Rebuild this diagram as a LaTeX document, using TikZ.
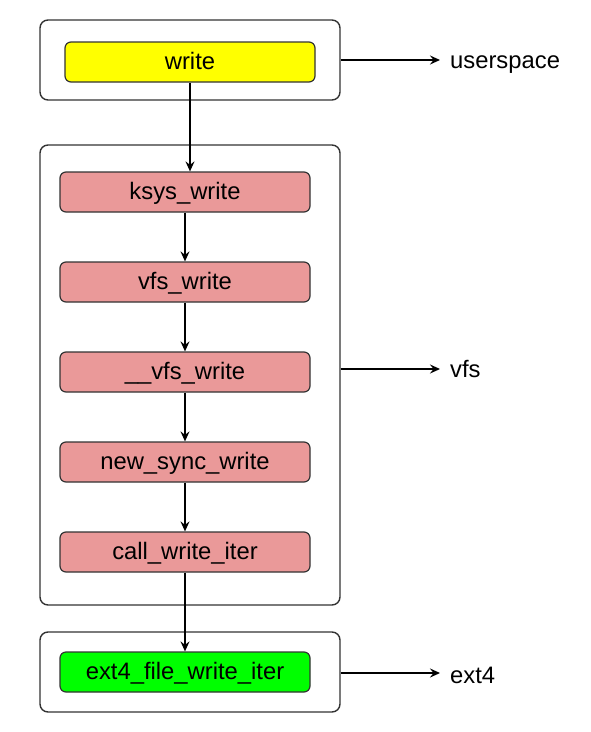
\documentclass[tikz,border=0pt]{standalone}
\usepackage{fontspec}
\setmainfont{Liberation Sans}
\usetikzlibrary{arrows.meta}
\definecolor{pinkfill}{HTML}{EA9999}
\definecolor{yellowfill}{HTML}{FFFF00}
\definecolor{greenfill}{HTML}{00FF00}
\definecolor{edgegray}{HTML}{333333}
\begin{document}
\begin{tikzpicture}[x=1pt,y=-1pt,
  outerbox/.style={draw=edgegray,line width=1.4pt,rounded corners=8pt,minimum width=300pt,inner sep=0pt,fill=white},
  fnbox/.style={draw=edgegray,line width=1.2pt,rounded corners=6pt,minimum width=250pt,minimum height=40pt,inner sep=0pt,text height=16pt,text depth=1pt,font=\fontsize{23.8}{26}\selectfont},
  lbl/.style={anchor=base west,inner sep=0pt,font=\fontsize{23.8}{26}\selectfont},
  conn/.style={line width=1.5pt,-{Stealth[length=10pt,width=9pt,inset=3.5pt]}}
]
\useasboundingbox (0,0) rectangle (590,732);
% outer boxes
\node[outerbox,minimum height=80pt] (top) at (190,60) {};
\node[outerbox,minimum height=460pt] (mid) at (190,375) {};
\node[outerbox,minimum height=80pt] (bot) at (190,672) {};
% function boxes
\node[fnbox,fill=yellowfill] (write) at (190,62) {write};
\node[fnbox,fill=pinkfill] (ksys) at (185,192) {ksys\_write};
\node[fnbox,fill=pinkfill] (vfsw) at (185,282) {vfs\_write};
\node[fnbox,fill=pinkfill] (uvfsw) at (185,372) {\_\_vfs\_write};
\node[fnbox,fill=pinkfill] (nsw) at (185,462) {new\_sync\_write};
\node[fnbox,fill=pinkfill] (cwi) at (185,552) {call\_write\_iter};
\node[fnbox,fill=greenfill] (ext4w) at (185,672) {ext4\_file\_write\_iter};
% side labels
\node[lbl] (luser) at (450,68) {userspace};
\node[lbl] (lvfs) at (450,377) {vfs};
\node[lbl] (lext) at (450,683) {ext4};
\coordinate (auser) at (440,60);
\coordinate (avfs) at (440,369);
\coordinate (aext) at (440,673);
% vertical connectors
\draw[conn] (write.south) -- (write.south |- ksys.north);
\draw[conn] (ksys) -- (vfsw);
\draw[conn] (vfsw) -- (uvfsw);
\draw[conn] (uvfsw) -- (nsw);
\draw[conn] (nsw) -- (cwi);
\draw[conn] (cwi) -- (ext4w);
% side connectors
\draw[conn] (top.east |- auser) -- (auser);
\draw[conn] (mid.east |- avfs) -- (avfs);
\draw[conn] (bot.east |- aext) -- (aext);
\end{tikzpicture}
\end{document}
